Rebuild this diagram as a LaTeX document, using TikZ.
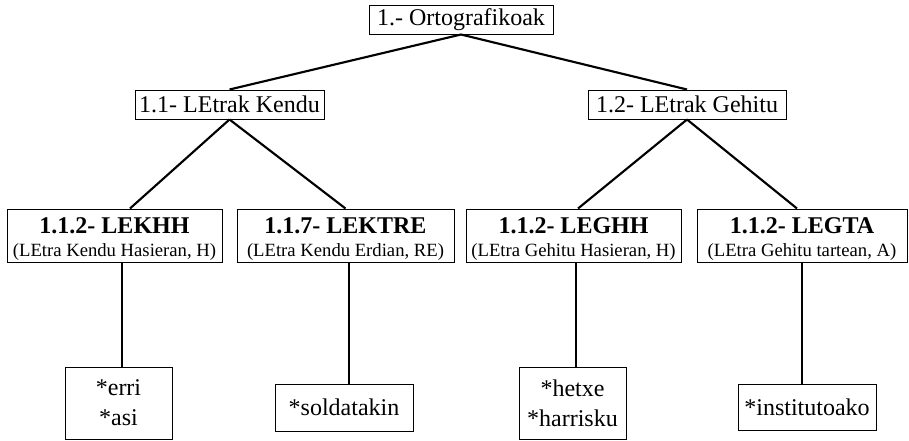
\documentclass[tikz,border=0pt]{standalone}
\usepackage{fontspec}
\setmainfont{Liberation Serif}
\begin{document}
\begin{tikzpicture}[x=0.75pt,y=-0.75pt,
  box/.style={draw,line width=0.75pt,inner sep=0pt,align=center,font=\fontsize{18}{21}\selectfont},
  sz/.style 2 args={minimum width=#1*0.75pt,minimum height=#2*0.75pt},
  link/.style={line width=1.6pt}]
\useasboundingbox (0,0) rectangle (909,440);
\newcommand\subtxt[1]{{\fontsize{14}{18}\selectfont #1}}
\newcommand\ttl[1]{\rule{0pt}{17pt}\textbf{#1}}
\node[box,sz={184}{29}] (root) at (461,19.5) {1.- Ortografikoak};
\node[box,sz={189}{29}] (l1) at (229.5,104.5) {1.1- LEtrak Kendu};
\node[box,sz={198}{29}] (l2) at (687,104.5) {1.2- LEtrak Gehitu};
\node[box,sz={215}{53}] (a) at (114.5,235.5) {\ttl{1.1.2- LEKHH}\\[-4pt]\subtxt{(LEtra Kendu Hasieran, H)}};
\node[box,sz={217}{53}] (b) at (345.5,235.5) {\ttl{1.1.7- LEKTRE}\\[-4pt]\subtxt{(LEtra Kendu Erdian, RE)}};
\node[box,sz={215}{53}] (c) at (573.5,235.5) {\ttl{1.1.2- LEGHH}\\[-4pt]\subtxt{(LEtra Gehitu Hasieran, H)}};
\node[box,sz={210}{53}] (d) at (802,235.5) {\ttl{1.1.2- LEGTA}\\[-4pt]\subtxt{(LEtra Gehitu tartean, A)}};
\node[box,sz={107}{72}] (ea) at (118.5,403) {*erri\\[1.5pt]*asi};
\node[box,sz={138}{47}] (eb) at (344,407.5) {*soldatakin};
\node[box,sz={107}{72}] (ec) at (572.5,403) {*hetxe\\[1.5pt]*harrisku};
\node[box,sz={138}{46}] (ed) at (807,407) {*institutoako};
\draw[link] (root.south) -- (l1.north);
\draw[link] (root.south) -- (l2.north);
\draw[link] (l1.south) -- ([xshift=11.6pt]a.north);
\draw[link] (l1.south) -- (b.north);
\draw[link] (l2.south) -- ([xshift=3.4pt]c.north);
\draw[link] (l2.south) -- ([xshift=-3.75pt]d.north);
\coordinate (va) at ([xshift=5.6pt]a.south);
\coordinate (vb) at ([xshift=2.6pt]b.south);
\coordinate (vc) at ([xshift=1.9pt]c.south);
\coordinate (vd) at (d.south);
\draw[link] (va) -- (va |- ea.north);
\draw[link] (vb) -- (vb |- eb.north);
\draw[link] (vc) -- (vc |- ec.north);
\draw[link] (vd) -- (vd |- ed.north);
\end{tikzpicture}
\end{document}
